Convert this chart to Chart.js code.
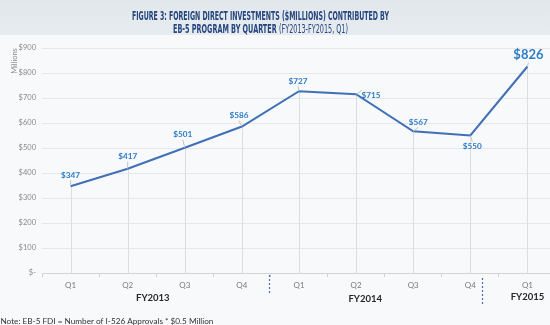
<!DOCTYPE html>
<html>
<head>
<meta charset="utf-8">
<script src="https://cdn.jsdelivr.net/npm/chart.js@4/dist/chart.umd.min.js"></script>
<style>
  html, body { margin: 0; padding: 0; width: 550px; height: 325px; overflow: hidden; background: #f7f9fb; }
  #wrap { position: relative; width: 556px; height: 325px; }
</style>
</head>
<body>
<div id="wrap"><canvas id="c" width="556" height="325"></canvas></div>
<script>
// Quarterly EB-5 foreign direct investment, $ millions
const categories = ['Q1', 'Q2', 'Q3', 'Q4', 'Q1', 'Q2', 'Q3', 'Q4', 'Q1'];
const fdiMillions = [347, 417, 501, 586, 727, 715, 567, 550, 826];
const fiscalYears = ['FY2013', 'FY2014', 'FY2015'];
const yTickValues = [0, 100, 200, 300, 400, 500, 600, 700, 800, 900];
const titleLine1 = 'FIGURE 3: FOREIGN DIRECT INVESTMENTS ($MILLIONS) CONTRIBUTED BY';
const titleLine2Bold = 'EB-5 PROGRAM BY QUARTER ';
const titleLine2Light = '(FY2013-FY2015, Q1)';
const noteText = 'Note: EB-5 FDI = Number of I-526 Approvals * $0.5 Million';

// placement of the fiscal-year captions (category index) and the year dividers
const fyLabelIndex = [1.44, 5.16, 8.0];
const dividerIndex = [3.48, 7.2];
const dividerSpan = [[275, 293], [278, 306]];
// value-label offsets relative to each point
const labelOffsets = [[0, -11], [0, -12], [-2, -13], [-3, -11], [-1, -10], [15, 1], [5, -9], [2, 11], [1, -12]];

const fmtMoney = v => v === 0 ? '$-' : '$' + v;

function idxToPx(scale, f) {
  const a = scale.getPixelForValue(0), b = scale.getPixelForValue(1);
  return a + (b - a) * f;
}

const decor = {
  id: 'decor',
  beforeDraw(chart) {
    const ctx = chart.ctx;
    ctx.save();
    ctx.fillStyle = '#f7f9fb';
    ctx.fillRect(0, 0, chart.width, chart.height);
    const g = ctx.createLinearGradient(0, 0, 0, 36);
    g.addColorStop(0, '#e1e7eb');
    g.addColorStop(1, '#e7ecf0');
    ctx.fillStyle = g;
    ctx.fillRect(0, 0, chart.width, 35);
    ctx.restore();
  },
  beforeDatasetsDraw(chart) {
    // drop lines from each point to the category axis
    const ctx = chart.ctx;
    const meta = chart.getDatasetMeta(0);
    const bottom = chart.chartArea.bottom;
    ctx.save();
    ctx.strokeStyle = '#dddddd';
    ctx.lineWidth = 1;
    meta.data.forEach(p => {
      const x = Math.round(p.x) + 0.5;
      ctx.beginPath();
      ctx.moveTo(x, p.y);
      ctx.lineTo(x, bottom);
      ctx.stroke();
    });
    ctx.restore();
  },
  afterDatasetsDraw(chart) {
    const ctx = chart.ctx;
    const meta = chart.getDatasetMeta(0);
    ctx.save();
    ctx.textAlign = 'center';
    ctx.textBaseline = 'middle';
    meta.data.forEach((p, i) => {
      const [dx, dy] = labelOffsets[i];
      const big = i === fdiMillions.length - 1;
      const lx = p.x + dx, ly = p.y + dy;
      // short leader line
      ctx.strokeStyle = '#c4c4c4';
      ctx.lineWidth = 1;
      ctx.beginPath();
      const endY = dy < 0 ? ly + (big ? 8 : 5) : ly - 5;
      const endX = dx > 8 ? lx - 9 : lx;
      ctx.moveTo(p.x, p.y);
      ctx.lineTo(endX, endY);
      ctx.stroke();
      ctx.fillStyle = '#2f7cc9';
      ctx.font = big ? 'bold 13px Lato' : 'bold 8.2px Lato';
      ctx.fillText('$' + fdiMillions[i], lx, ly);
    });
    ctx.restore();
  },
  afterDraw(chart) {
    const ctx = chart.ctx;
    const xs = chart.scales.x;
    ctx.save();
    // title
    ctx.fillStyle = '#25457e';
    ctx.textBaseline = 'alphabetic';
    ctx.font = 'bold 13px "DejaVu Sans Condensed"';
    let w = ctx.measureText(titleLine1).width;
    let target = 257, cx = 260.5;
    ctx.save();
    ctx.translate(cx - target / 2, 20);
    ctx.scale(target / w, 1);
    ctx.textAlign = 'left';
    ctx.fillText(titleLine1, 0, 0);
    ctx.restore();

    const wb = ctx.measureText(titleLine2Bold).width;
    ctx.font = '13px "DejaVu Sans Condensed"';
    const wl = ctx.measureText(titleLine2Light).width;
    target = 175;
    const s = target / (wb + wl);
    ctx.save();
    ctx.translate(cx - target / 2, 32.5);
    ctx.scale(s, 1);
    ctx.textAlign = 'left';
    ctx.font = 'bold 13px "DejaVu Sans Condensed"';
    ctx.fillText(titleLine2Bold, 0, 0);
    ctx.font = '13px "DejaVu Sans Condensed"';
    ctx.fillText(titleLine2Light, wb, 0);
    ctx.restore();

    // y-axis unit
    ctx.save();
    ctx.translate(14.5, 61);
    ctx.rotate(-Math.PI / 2);
    ctx.textAlign = 'center';
    ctx.textBaseline = 'middle';
    ctx.fillStyle = '#8a8a8a';
    ctx.font = '7.5px Lato';
    ctx.fillText('Millions', 0, 0);
    ctx.restore();

    // fiscal-year captions
    ctx.fillStyle = '#262626';
    ctx.font = 'bold 9.5px Lato';
    ctx.textAlign = 'center';
    ctx.textBaseline = 'middle';
    fiscalYears.forEach((fy, i) => {
      const y = i === 1 ? 299 : 298;
      ctx.fillText(fy, idxToPx(xs, fyLabelIndex[i]), i === 2 ? 297 : y);
    });

    // dotted dividers between fiscal years
    ctx.strokeStyle = '#4a6db3';
    ctx.lineWidth = 1.2;
    ctx.setLineDash([2, 2]);
    dividerIndex.forEach((f, i) => {
      const x = Math.round(idxToPx(xs, f)) + 0.5;
      ctx.beginPath();
      ctx.moveTo(x, dividerSpan[i][0]);
      ctx.lineTo(x, dividerSpan[i][1]);
      ctx.stroke();
    });
    ctx.setLineDash([]);

    // footnote
    ctx.fillStyle = '#333333';
    ctx.font = '8.2px Lato';
    ctx.textAlign = 'left';
    ctx.fillText(noteText, 0.5, 321);
    ctx.restore();
  }
};

new Chart(document.getElementById('c'), {
  type: 'line',
  data: {
    labels: categories,
    datasets: [{
      data: fdiMillions,
      borderColor: '#3f6fb6',
      borderWidth: 2,
      pointRadius: 0,
      tension: 0,
      fill: false
    }]
  },
  options: {
    responsive: false,
    animation: false,
    events: [],
    layout: { padding: { top: 48, left: 0, right: 0, bottom: 0 } },
    plugins: { legend: { display: false }, tooltip: { enabled: false }, title: { display: false } },
    scales: {
      x: {
        offset: true,
        afterFit(s) { s.height = 52; },
        grid: { offset: true, drawOnChartArea: false, drawTicks: true, tickLength: 4, color: '#cfcfcf' },
        border: { display: true, color: '#d4d4d4', width: 1 },
        ticks: { color: '#7a7a7a', font: { family: 'Lato', size: 8 }, padding: 4, maxRotation: 0, autoSkip: false }
      },
      y: {
        min: 0,
        max: 900,
        afterFit(s) { s.width = 42; },
        afterBuildTicks(s) { s.ticks = yTickValues.map(v => ({ value: v })); },
        grid: { color: '#e6e8ea', drawTicks: false, lineWidth: 1 },
        border: { display: false },
        ticks: {
          color: '#8a8a8a',
          font: { family: 'Lato', size: 7.5 },
          padding: 6,
          callback: v => fmtMoney(v)
        }
      }
    }
  },
  plugins: [decor]
});
</script>
</body>
</html>
